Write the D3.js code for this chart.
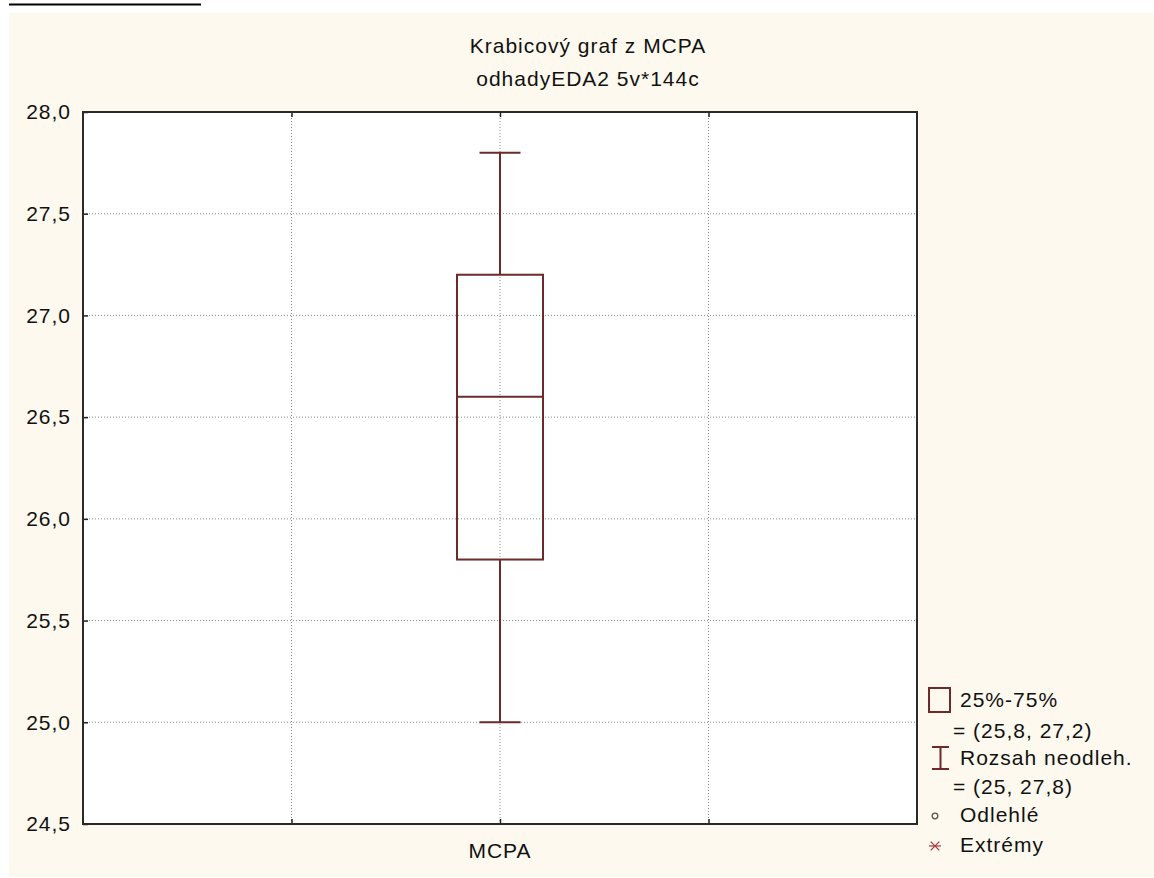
<!DOCTYPE html>
<html>
<head>
<meta charset="utf-8">
<script src="https://cdn.jsdelivr.net/npm/d3@7"></script>
<style>
  body { margin: 0; background: #fff; }
  text { font-family: "Liberation Sans", Arial, sans-serif; fill: #111; }
</style>
</head>
<body>
<div id="chart"></div>
<script>
// data
const categories = ["MCPA"];
const q1Values = [25.8];
const medianValues = [26.6];
const q3Values = [27.2];
const minValues = [25.0];
const maxValues = [27.8];
const yTicks = [24.5, 25.0, 25.5, 26.0, 26.5, 27.0, 27.5, 28.0];
const titleLines = ["Krabicový graf z MCPA", "odhadyEDA2 5v*144c"];
const legendLabels = ["25%-75%", "= (25,8, 27,2)", "Rozsah neodleh.", "= (25, 27,8)", "Odlehlé", "Extrémy"];

const W = 1154, H = 878;
const margin = { top: 112, right: 237, bottom: 54, left: 83 },
      width = W - margin.left - margin.right,
      height = H - margin.top - margin.bottom;
const boxColor = "#6e2a2a";
const fontSize = "21px", spacing = "1px";

const root = d3.select("#chart")
  .append("svg")
  .attr("width", W)
  .attr("height", H);

// cream background + stray line at top
root.append("rect")
  .attr("x", 9).attr("y", 13)
  .attr("width", W - 9).attr("height", H - 14)
  .attr("fill", "#fdf9ef");
root.append("line")
  .attr("x1", 9).attr("x2", 201)
  .attr("y1", 4.5).attr("y2", 4.5)
  .attr("stroke", "#000").attr("stroke-width", 2);

// title
root.selectAll(".title")
  .data(titleLines)
  .enter()
  .append("text")
  .attr("class", "title")
  .attr("x", 588)
  .attr("y", (d, i) => 53 + i * 33)
  .attr("text-anchor", "middle")
  .style("font-size", fontSize)
  .style("letter-spacing", spacing)
  .text(d => d);

const svg = root.append("g")
  .attr("transform", `translate(${margin.left},${margin.top})`);

const x = d3.scaleLinear().domain([0, 4]).range([0, width]);
const y = d3.scaleLinear().domain([24.5, 28.0]).range([height, 0]);
const fmt = v => d3.format(".1f")(v).replace(".", ",");

svg.append("rect")
  .attr("width", width).attr("height", height)
  .attr("fill", "#fff");

// gridlines
svg.append("g")
  .selectAll("line")
  .data(yTicks.slice(1, -1))
  .enter()
  .append("line")
  .attr("x1", 0).attr("x2", width)
  .attr("y1", d => y(d)).attr("y2", d => y(d))
  .attr("stroke", "#8a8a8a")
  .attr("stroke-dasharray", "1,2");

svg.append("g")
  .selectAll("line")
  .data([1, 2, 3])
  .enter()
  .append("line")
  .attr("x1", d => x(d)).attr("x2", d => x(d))
  .attr("y1", 0).attr("y2", height)
  .attr("stroke", "#8a8a8a")
  .attr("stroke-dasharray", "1,2");

// axes (inward ticks)
const yAxis = svg.append("g")
  .call(d3.axisLeft(y).tickValues(yTicks).tickSize(-5).tickPadding(12).tickFormat(fmt));
yAxis.select(".domain").remove();
yAxis.selectAll("text")
  .style("font-size", fontSize)
  .style("letter-spacing", spacing)
  .attr("fill", "#111")
  .attr("font-family", null);
yAxis.selectAll("line").attr("stroke", "#222").attr("stroke-width", 1.5);

const xAxis = svg.append("g")
  .attr("transform", `translate(0,${height})`)
  .call(d3.axisBottom(x).tickValues([1, 2, 3]).tickSize(-5).tickFormat(""));
xAxis.select(".domain").remove();
xAxis.selectAll("line").attr("stroke", "#222").attr("stroke-width", 1.5);

svg.append("g")
  .call(d3.axisTop(x).tickValues([1, 2, 3]).tickSize(-5).tickFormat(""))
  .call(g => g.select(".domain").remove())
  .selectAll("line").attr("stroke", "#222").attr("stroke-width", 1.5);

svg.selectAll(".cat")
  .data(categories)
  .enter()
  .append("text")
  .attr("class", "cat")
  .attr("x", (d, i) => x(2 + i))
  .attr("y", height + 34)
  .attr("text-anchor", "middle")
  .style("font-size", fontSize)
  .style("letter-spacing", spacing)
  .text(d => d);

// box plot
const boxW = 86, capW = 41;
const boxes = svg.selectAll(".box")
  .data(categories.map((c, i) => ({
    c, cx: x(2 + i), q1: q1Values[i], med: medianValues[i],
    q3: q3Values[i], lo: minValues[i], hi: maxValues[i]
  })))
  .enter()
  .append("g")
  .attr("class", "box")
  .attr("stroke", boxColor)
  .attr("stroke-width", 2)
  .attr("fill", "none");

boxes.append("line")
  .attr("x1", d => d.cx).attr("x2", d => d.cx)
  .attr("y1", d => y(d.hi)).attr("y2", d => y(d.q3));
boxes.append("line")
  .attr("x1", d => d.cx).attr("x2", d => d.cx)
  .attr("y1", d => y(d.q1)).attr("y2", d => y(d.lo));
boxes.append("line")
  .attr("x1", d => d.cx - capW / 2).attr("x2", d => d.cx + capW / 2)
  .attr("y1", d => y(d.hi)).attr("y2", d => y(d.hi));
boxes.append("line")
  .attr("x1", d => d.cx - capW / 2).attr("x2", d => d.cx + capW / 2)
  .attr("y1", d => y(d.lo)).attr("y2", d => y(d.lo));
boxes.append("rect")
  .attr("x", d => d.cx - boxW / 2)
  .attr("y", d => y(d.q3))
  .attr("width", boxW)
  .attr("height", d => y(d.q1) - y(d.q3));
boxes.append("line")
  .attr("x1", d => d.cx - boxW / 2).attr("x2", d => d.cx + boxW / 2)
  .attr("y1", d => y(d.med)).attr("y2", d => y(d.med));

// frame
svg.append("rect")
  .attr("width", width).attr("height", height)
  .attr("fill", "none")
  .attr("stroke", "#2a2a2a")
  .attr("stroke-width", 2);

// legend
const rowY = [700, 731, 758, 787, 815, 845];
const textX = [960, 953, 960, 953, 960, 960];
const legend = root.append("g");
legend.selectAll("text")
  .data(legendLabels)
  .enter()
  .append("text")
  .attr("x", (d, i) => textX[i])
  .attr("y", (d, i) => rowY[i] + 7)
  .style("font-size", fontSize)
  .style("letter-spacing", spacing)
  .text(d => d);

legend.append("rect")
  .attr("x", 929).attr("y", rowY[0] - 12)
  .attr("width", 21).attr("height", 24)
  .attr("fill", "none").attr("stroke", boxColor).attr("stroke-width", 2);

const iy = rowY[2];
legend.append("path")
  .attr("d", `M932,${iy - 11}H949M940.5,${iy - 11}V${iy + 11}M932,${iy + 11}H949`)
  .attr("fill", "none").attr("stroke", boxColor).attr("stroke-width", 2);

legend.append("circle")
  .attr("cx", 935).attr("cy", rowY[4] + 1).attr("r", 2.8)
  .attr("fill", "none").attr("stroke", "#555").attr("stroke-width", 1.3);

legend.append("path")
  .attr("d", d3.symbol(d3.symbolTimes, 50)())
  .attr("transform", `translate(935,${rowY[5] + 1})`)
  .attr("fill", "none").attr("stroke", "#a33").attr("stroke-width", 1.2);
legend.append("line")
  .attr("x1", 929).attr("x2", 941)
  .attr("y1", rowY[5] + 1).attr("y2", rowY[5] + 1)
  .attr("stroke", "#a33").attr("stroke-width", 1.2);
</script>
</body>
</html>
